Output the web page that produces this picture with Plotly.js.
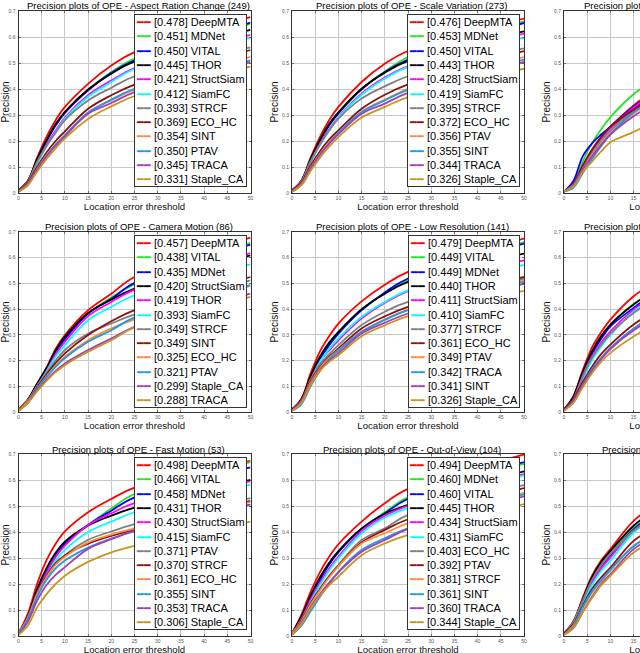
<!DOCTYPE html>
<html>
<head>
<meta charset="utf-8">
<script src="https://cdn.plot.ly/plotly-3.0.1.min.js"></script>
<style>
html,body{margin:0;padding:0;overflow:hidden;background:#fff;}
#chart{width:820px;height:680px;}
</style>
</head>
<body>
<div id="chart"></div>
<script>
// ---------------- DATA ----------------
const XS = [0, 2, 4, 6, 8, 10, 15, 20, 25, 50];

const P1_TITLE = 'Precision plots of OPE - Aspect Ration Change (249)';
const P1_NAMES = ['DeepMTA','MDNet','VITAL','THOR','StructSiam','SiamFC','STRCF','ECO_HC','SINT','PTAV','TRACA','Staple_CA'];
const P1_SCORES = [0.478,0.451,0.450,0.445,0.421,0.412,0.393,0.369,0.354,0.350,0.345,0.331];
const P1_CURVES = [
  [0.01,0.045,0.135,0.215,0.28,0.331,0.42,0.49,0.542,0.676],
  [0.01,0.045,0.125,0.20,0.262,0.31,0.397,0.465,0.517,0.65],
  [0.01,0.045,0.125,0.198,0.26,0.308,0.395,0.462,0.51,0.655],
  [0.01,0.047,0.13,0.202,0.265,0.312,0.398,0.459,0.506,0.627],
  [0.01,0.042,0.118,0.185,0.24,0.29,0.376,0.433,0.48,0.608],
  [0.01,0.04,0.112,0.178,0.235,0.285,0.37,0.427,0.478,0.597],
  [0.01,0.045,0.12,0.18,0.232,0.28,0.356,0.405,0.449,0.56],
  [0.01,0.04,0.1,0.155,0.2,0.237,0.324,0.376,0.417,0.55],
  [0.005,0.035,0.092,0.145,0.187,0.222,0.31,0.356,0.397,0.524],
  [0.005,0.03,0.088,0.142,0.185,0.222,0.31,0.359,0.401,0.51],
  [0.005,0.035,0.09,0.14,0.182,0.218,0.305,0.346,0.388,0.503],
  [0.005,0.03,0.082,0.13,0.172,0.21,0.285,0.333,0.373,0.486]
];

const P2_TITLE = 'Precision plots of OPE - Scale Variation (273)';
const P2_NAMES = ['DeepMTA','MDNet','VITAL','THOR','StructSiam','SiamFC','STRCF','ECO_HC','PTAV','SINT','TRACA','Staple_CA'];
const P2_SCORES = [0.476,0.453,0.450,0.443,0.428,0.419,0.395,0.372,0.356,0.355,0.344,0.326];
const P2_CURVES = [
  [0.01,0.045,0.135,0.215,0.28,0.331,0.427,0.497,0.546,0.671],
  [0.01,0.045,0.125,0.2,0.262,0.308,0.401,0.467,0.523,0.66],
  [0.01,0.045,0.125,0.2,0.26,0.306,0.399,0.465,0.513,0.654],
  [0.01,0.047,0.13,0.203,0.265,0.31,0.401,0.463,0.508,0.622],
  [0.01,0.043,0.12,0.19,0.245,0.292,0.382,0.444,0.488,0.613],
  [0.01,0.04,0.115,0.183,0.24,0.29,0.378,0.44,0.485,0.597],
  [0.01,0.045,0.122,0.185,0.24,0.286,0.363,0.41,0.449,0.556],
  [0.01,0.04,0.105,0.16,0.205,0.241,0.324,0.378,0.418,0.546],
  [0.005,0.035,0.097,0.15,0.195,0.231,0.312,0.359,0.401,0.523],
  [0.005,0.03,0.088,0.145,0.19,0.231,0.312,0.356,0.397,0.513],
  [0.005,0.035,0.095,0.147,0.19,0.226,0.305,0.344,0.385,0.504],
  [0.005,0.03,0.085,0.135,0.178,0.215,0.29,0.331,0.369,0.478]
];

const P3_TITLE = 'Precision plots of OPE - Partial Occlusion (187)';
const P3_NAMES = ['DeepMTA','MDNet','VITAL','THOR','StructSiam','SiamFC','STRCF','ECO_HC','PTAV','SINT','TRACA','Staple_CA'];
const P3_SCORES = [0.431,0.428,0.410,0.401,0.398,0.386,0.383,0.380,0.372,0.370,0.362,0.318];
const P3_CURVES = [
  [0.005,0.03,0.1,0.165,0.215,0.255,0.337,0.4,0.45,0.58],
  [0.005,0.035,0.12,0.19,0.245,0.292,0.38,0.44,0.49,0.61],
  [0.005,0.045,0.14,0.19,0.225,0.255,0.332,0.39,0.44,0.57],
  [0.005,0.03,0.1,0.16,0.21,0.25,0.325,0.385,0.43,0.56],
  [0.005,0.03,0.1,0.16,0.21,0.25,0.328,0.39,0.435,0.56],
  [0.005,0.03,0.09,0.15,0.2,0.24,0.31,0.37,0.415,0.54],
  [0.005,0.03,0.095,0.15,0.2,0.24,0.315,0.37,0.41,0.53],
  [0.005,0.035,0.105,0.165,0.215,0.255,0.32,0.37,0.41,0.52],
  [0.005,0.03,0.09,0.145,0.19,0.23,0.305,0.36,0.4,0.51],
  [0.005,0.02,0.075,0.13,0.18,0.225,0.31,0.365,0.405,0.52],
  [0.005,0.03,0.09,0.14,0.185,0.225,0.295,0.35,0.39,0.5],
  [0.005,0.025,0.08,0.12,0.16,0.195,0.235,0.28,0.32,0.42]
];

const P4_TITLE = 'Precision plots of OPE - Camera Motion (86)';
const P4_NAMES = ['DeepMTA','VITAL','MDNet','StructSiam','THOR','SiamFC','STRCF','SINT','ECO_HC','PTAV','Staple_CA','TRACA'];
const P4_SCORES = [0.457,0.438,0.435,0.420,0.419,0.393,0.349,0.349,0.325,0.321,0.299,0.288];
const P4_CURVES = [
  [0.01,0.045,0.11,0.17,0.245,0.299,0.396,0.46,0.525,0.678],
  [0.01,0.045,0.105,0.16,0.235,0.288,0.383,0.445,0.497,0.658],
  [0.01,0.045,0.105,0.16,0.232,0.283,0.383,0.44,0.502,0.651],
  [0.01,0.048,0.11,0.17,0.24,0.292,0.385,0.437,0.48,0.609],
  [0.01,0.045,0.1,0.158,0.225,0.273,0.373,0.428,0.476,0.618],
  [0.01,0.04,0.1,0.155,0.215,0.26,0.357,0.409,0.454,0.574],
  [0.01,0.045,0.1,0.15,0.2,0.241,0.305,0.344,0.38,0.512],
  [0.01,0.04,0.095,0.145,0.19,0.228,0.299,0.353,0.396,0.525],
  [0.005,0.04,0.09,0.138,0.18,0.215,0.279,0.325,0.36,0.49],
  [0.005,0.035,0.09,0.135,0.175,0.21,0.273,0.318,0.368,0.493],
  [0.005,0.035,0.085,0.125,0.16,0.189,0.241,0.286,0.331,0.46],
  [0.005,0.035,0.08,0.12,0.155,0.182,0.234,0.279,0.329,0.448]
];

const P5_TITLE = 'Precision plots of OPE - Low Resolution (141)';
const P5_NAMES = ['DeepMTA','VITAL','MDNet','THOR','StructSiam','SiamFC','STRCF','ECO_HC','PTAV','TRACA','SINT','Staple_CA'];
const P5_SCORES = [0.479,0.449,0.449,0.440,0.411,0.410,0.377,0.361,0.349,0.342,0.341,0.326];
const P5_CURVES = [
  [0.01,0.05,0.15,0.235,0.295,0.344,0.43,0.495,0.545,0.674],
  [0.01,0.045,0.13,0.205,0.26,0.305,0.396,0.462,0.512,0.661],
  [0.01,0.045,0.13,0.205,0.26,0.305,0.396,0.465,0.519,0.655],
  [0.01,0.05,0.14,0.215,0.27,0.312,0.40,0.46,0.506,0.616],
  [0.01,0.045,0.125,0.195,0.24,0.279,0.364,0.425,0.47,0.59],
  [0.01,0.04,0.12,0.195,0.245,0.286,0.37,0.428,0.473,0.571],
  [0.01,0.045,0.125,0.185,0.225,0.26,0.338,0.39,0.428,0.518],
  [0.01,0.045,0.12,0.175,0.215,0.247,0.325,0.372,0.409,0.525],
  [0.005,0.04,0.115,0.17,0.21,0.241,0.312,0.36,0.398,0.512],
  [0.005,0.03,0.1,0.16,0.205,0.238,0.312,0.358,0.396,0.506],
  [0.005,0.04,0.11,0.165,0.2,0.228,0.305,0.347,0.383,0.498],
  [0.005,0.035,0.105,0.16,0.195,0.221,0.295,0.337,0.373,0.471]
];

const P6_TITLE = 'Precision plots of OPE - Viewpoint Change (33)';
const P6_NAMES = ['DeepMTA','MDNet','VITAL','THOR','StructSiam','SiamFC','STRCF','ECO_HC','PTAV','SINT','TRACA','Staple_CA'];
const P6_SCORES = [0.468,0.441,0.436,0.432,0.419,0.410,0.402,0.368,0.352,0.351,0.346,0.322];
const P6_CURVES = [
  [0.01,0.06,0.16,0.25,0.31,0.359,0.45,0.51,0.56,0.68],
  [0.01,0.055,0.15,0.23,0.29,0.338,0.42,0.48,0.53,0.66],
  [0.01,0.055,0.145,0.225,0.285,0.333,0.405,0.47,0.52,0.65],
  [0.01,0.06,0.155,0.235,0.295,0.34,0.418,0.475,0.52,0.64],
  [0.01,0.05,0.14,0.215,0.27,0.314,0.398,0.46,0.505,0.63],
  [0.01,0.045,0.125,0.2,0.255,0.3,0.39,0.45,0.495,0.62],
  [0.01,0.05,0.135,0.21,0.262,0.305,0.385,0.44,0.48,0.6],
  [0.01,0.05,0.115,0.175,0.225,0.262,0.34,0.395,0.435,0.56],
  [0.005,0.04,0.1,0.16,0.21,0.249,0.322,0.375,0.415,0.54],
  [0.005,0.04,0.105,0.165,0.21,0.249,0.325,0.38,0.42,0.545],
  [0.005,0.045,0.105,0.16,0.205,0.245,0.318,0.37,0.41,0.53],
  [0.005,0.035,0.095,0.15,0.195,0.23,0.294,0.345,0.385,0.5]
];

const P7_TITLE = 'Precision plots of OPE - Fast Motion (53)';
const P7_NAMES = ['DeepMTA','VITAL','MDNet','THOR','StructSiam','SiamFC','PTAV','STRCF','ECO_HC','SINT','TRACA','Staple_CA'];
const P7_SCORES = [0.498,0.466,0.458,0.431,0.430,0.415,0.371,0.370,0.361,0.355,0.353,0.306];
const P7_CURVES = [
  [0.01,0.085,0.2,0.29,0.355,0.402,0.476,0.527,0.571,0.674],
  [0.01,0.07,0.17,0.24,0.305,0.35,0.427,0.49,0.546,0.669],
  [0.01,0.07,0.17,0.245,0.31,0.355,0.427,0.482,0.533,0.649],
  [0.01,0.075,0.18,0.26,0.32,0.363,0.425,0.463,0.494,0.6],
  [0.01,0.07,0.165,0.24,0.305,0.348,0.427,0.472,0.511,0.595],
  [0.01,0.065,0.16,0.23,0.29,0.331,0.40,0.44,0.476,0.582],
  [0.01,0.07,0.16,0.225,0.275,0.311,0.37,0.402,0.43,0.53],
  [0.01,0.07,0.165,0.23,0.28,0.31,0.355,0.385,0.408,0.52],
  [0.01,0.07,0.16,0.225,0.275,0.305,0.36,0.39,0.414,0.515],
  [0.01,0.065,0.15,0.215,0.26,0.29,0.34,0.375,0.402,0.505],
  [0.005,0.055,0.135,0.195,0.235,0.265,0.335,0.372,0.405,0.505],
  [0.005,0.04,0.11,0.16,0.2,0.232,0.285,0.322,0.347,0.44]
];

const P8_TITLE = 'Precision plots of OPE - Out-of-View (104)';
const P8_NAMES = ['DeepMTA','MDNet','VITAL','THOR','StructSiam','SiamFC','ECO_HC','PTAV','STRCF','SINT','TRACA','Staple_CA'];
const P8_SCORES = [0.494,0.460,0.460,0.445,0.434,0.431,0.403,0.392,0.381,0.361,0.360,0.344];
const P8_CURVES = [
  [0.01,0.08,0.17,0.245,0.305,0.353,0.44,0.511,0.566,0.698],
  [0.01,0.07,0.145,0.215,0.275,0.322,0.412,0.476,0.533,0.662],
  [0.01,0.07,0.145,0.215,0.275,0.322,0.412,0.472,0.528,0.669],
  [0.01,0.075,0.155,0.225,0.282,0.327,0.414,0.47,0.505,0.633],
  [0.01,0.065,0.14,0.205,0.26,0.305,0.404,0.463,0.501,0.623],
  [0.01,0.06,0.13,0.195,0.252,0.299,0.395,0.456,0.492,0.618],
  [0.01,0.06,0.125,0.18,0.23,0.273,0.369,0.414,0.466,0.58],
  [0.01,0.06,0.125,0.18,0.23,0.27,0.36,0.408,0.449,0.569],
  [0.01,0.055,0.12,0.175,0.225,0.268,0.356,0.395,0.434,0.55],
  [0.005,0.04,0.095,0.15,0.2,0.247,0.331,0.376,0.414,0.545],
  [0.005,0.05,0.11,0.16,0.205,0.245,0.324,0.369,0.412,0.537],
  [0.005,0.045,0.105,0.155,0.195,0.228,0.311,0.356,0.389,0.507]
];

const P9_TITLE = 'Precision plots of OPE - Rotation (175)';
const P9_NAMES = ['DeepMTA','MDNet','VITAL','THOR','StructSiam','SiamFC','STRCF','ECO_HC','PTAV','SINT','TRACA','Staple_CA'];
const P9_SCORES = [0.470,0.447,0.443,0.441,0.430,0.422,0.419,0.391,0.377,0.374,0.362,0.352];
const P9_CURVES = [
  [0.01,0.055,0.145,0.23,0.29,0.334,0.443,0.51,0.56,0.68],
  [0.01,0.05,0.135,0.215,0.275,0.318,0.415,0.48,0.53,0.66],
  [0.01,0.05,0.13,0.205,0.265,0.31,0.41,0.475,0.525,0.65],
  [0.01,0.055,0.14,0.225,0.285,0.327,0.424,0.49,0.54,0.65],
  [0.01,0.05,0.13,0.205,0.26,0.302,0.405,0.47,0.515,0.64],
  [0.01,0.045,0.12,0.195,0.25,0.289,0.398,0.46,0.505,0.63],
  [0.01,0.055,0.135,0.215,0.272,0.315,0.405,0.46,0.5,0.61],
  [0.01,0.045,0.115,0.18,0.225,0.263,0.366,0.42,0.46,0.58],
  [0.005,0.04,0.105,0.165,0.21,0.25,0.347,0.4,0.44,0.56],
  [0.005,0.035,0.11,0.17,0.215,0.255,0.345,0.395,0.435,0.555],
  [0.005,0.03,0.09,0.15,0.2,0.237,0.334,0.385,0.425,0.545],
  [0.005,0.03,0.09,0.145,0.195,0.231,0.321,0.37,0.41,0.52]
];

const X_TICKS = [0,5,10,15,20,25,30,35,40,45,50];
const Y_TICKS = [0,0.1,0.2,0.3,0.4,0.5,0.6,0.7];
const X_LABEL = 'Location error threshold';
const Y_LABEL = 'Precision';

// ---------------- STYLE / LAYOUT ----------------
const COLORS = ['#ff0000','#22e622','#0000ff','#000000','#ff00ff','#00ffff',
                '#808080','#8b1010','#ff8c3c','#1c9ae6','#a040b4','#c8961e'];

const PANELS = [
  {t:P1_TITLE,n:P1_NAMES,s:P1_SCORES,c:P1_CURVES},
  {t:P2_TITLE,n:P2_NAMES,s:P2_SCORES,c:P2_CURVES},
  {t:P3_TITLE,n:P3_NAMES,s:P3_SCORES,c:P3_CURVES},
  {t:P4_TITLE,n:P4_NAMES,s:P4_SCORES,c:P4_CURVES},
  {t:P5_TITLE,n:P5_NAMES,s:P5_SCORES,c:P5_CURVES},
  {t:P6_TITLE,n:P6_NAMES,s:P6_SCORES,c:P6_CURVES},
  {t:P7_TITLE,n:P7_NAMES,s:P7_SCORES,c:P7_CURVES},
  {t:P8_TITLE,n:P8_NAMES,s:P8_SCORES,c:P8_CURVES},
  {t:P9_TITLE,n:P9_NAMES,s:P9_SCORES,c:P9_CURVES}
];

const W = 820, H = 680;
const COL_L = [18.5, 292, 564], COL_W = 232;
const ROW_T = [11, 232, 454], ROW_B = [193, 412, 636];
const FONT = 'Liberation Sans, Arial, sans-serif';

const traces = [];
const layout = {
  width: W, height: H,
  margin: {l:0, r:0, t:0, b:0},
  paper_bgcolor: '#fff', plot_bgcolor: '#fff',
  showlegend: false,
  font: {family: FONT, color: '#000'},
  annotations: []
};

PANELS.forEach((p, k) => {
  const col = k % 3, row = Math.floor(k / 3);
  const id = k === 0 ? '' : String(k + 1);
  const L = COL_L[col], R = L + COL_W, T = ROW_T[row], B = ROW_B[row];
  const axCommon = {
    showline: true, mirror: 'ticks', linecolor: '#333', linewidth: 1,
    ticks: 'inside', ticklen: 2, tickcolor: '#333', tickwidth: 0.6,
    showgrid: true, gridcolor: '#c8c8c8', gridwidth: 1, zeroline: false,
    tickfont: {size: 5, color: '#555', family: FONT},
    fixedrange: true
  };
  layout['xaxis' + id] = Object.assign({}, axCommon, {
    domain: [L / W, R / W], anchor: 'y' + id,
    range: [0, 50], tickvals: X_TICKS, ticklabelstandoff: 0,
    title: {text: X_LABEL, font: {size: 9.6, color: '#111', family: FONT}, standoff: 2}
  });
  layout['yaxis' + id] = Object.assign({}, axCommon, {
    domain: [1 - B / H, 1 - T / H], anchor: 'x' + id,
    range: [0, 0.7], tickvals: Y_TICKS, ticklabelstandoff: 1,
    title: {text: Y_LABEL, font: {size: 10, color: '#111', family: FONT}, standoff: 1}
  });
  p.c.forEach((ys, i) => {
    traces.push({
      type: 'scatter', mode: 'lines',
      x: XS, y: ys,
      xaxis: 'x' + id, yaxis: 'y' + id,
      name: '[' + p.s[i].toFixed(3) + '] ' + p.n[i],
      line: {color: COLORS[i], width: 1.8, shape: 'spline', smoothing: 1},
      hoverinfo: 'skip'
    });
  });
  // panel title
  layout.annotations.push({
    xref: 'paper', yref: 'paper',
    x: (L + COL_W / 2 + 4) / W, y: 1 - (T - 5) / H,
    xanchor: 'center', yanchor: 'middle', showarrow: false,
    text: p.t, font: {size: 9.5, color: '#000', family: FONT}
  });
  // legend box (built from names and scores)
  const lines = p.n.map((nm, i) =>
    '<span style="color:' + COLORS[i] + '">━━</span> [' + p.s[i].toFixed(3) + '] ' + nm);
  layout.annotations.push({
    xref: 'paper', yref: 'paper',
    x: (R - 4) / W, y: 1 - (T + 3) / H,
    xanchor: 'right', yanchor: 'top', showarrow: false, align: 'left',
    text: lines.join('<br>'),
    font: {size: 11, color: '#000', family: FONT},
    bgcolor: '#ffffff', bordercolor: '#333', borderwidth: 1, borderpad: 1
  });
});

Plotly.newPlot('chart', traces, layout, {displayModeBar: false, staticPlot: true});
</script>
</body>
</html>
